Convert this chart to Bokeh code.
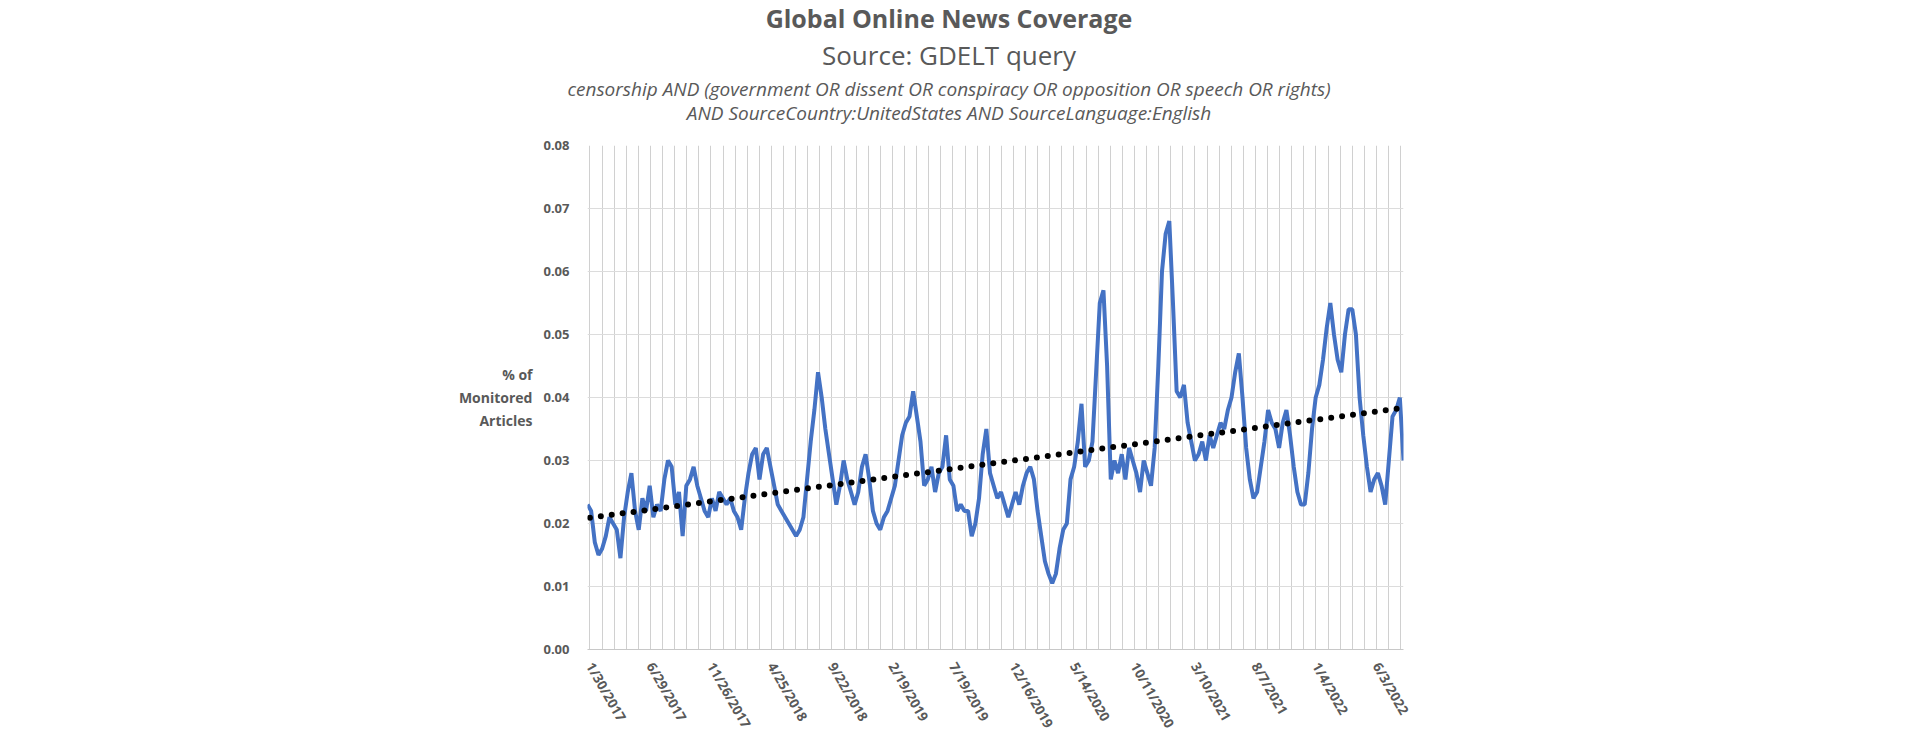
import numpy as np
import pandas as pd
from bokeh.plotting import figure
from bokeh.models import Range1d, FixedTicker, ColumnDataSource, Div
from bokeh.layouts import column
from bokeh.embed import file_html
from bokeh.resources import INLINE

values = [0.023,0.022,0.017,0.015,0.016,0.018,0.021,0.020,0.019,0.0145,0.021,0.025,0.028,0.022,0.019,0.024,0.022,0.026,0.021,0.023,
0.022,0.027,0.030,0.029,0.023,0.025,0.018,0.026,0.027,0.029,0.026,0.024,0.022,0.021,0.024,0.022,0.025,0.024,0.023,0.024,
0.022,0.021,0.019,0.024,0.028,0.031,0.032,0.027,0.031,0.032,0.029,0.026,0.023,0.022,0.021,0.020,0.019,0.018,0.019,0.021,
0.027,0.033,0.038,0.044,0.040,0.035,0.031,0.027,0.023,0.026,0.030,0.027,0.025,0.023,0.025,0.029,0.031,0.027,0.022,0.020,
0.019,0.021,0.022,0.024,0.026,0.030,0.034,0.036,0.037,0.041,0.037,0.033,0.026,0.027,0.029,0.025,0.028,0.029,0.034,0.027,
0.026,0.022,0.023,0.022,0.022,0.018,0.020,0.024,0.031,0.035,0.028,0.026,0.024,0.025,0.023,0.021,0.023,0.025,0.023,0.026,
0.028,0.029,0.027,0.022,0.018,0.014,0.012,0.0105,0.012,0.016,0.019,0.020,0.027,0.029,0.033,0.039,0.029,0.030,0.033,0.044,
0.055,0.057,0.045,0.027,0.030,0.028,0.031,0.027,0.032,0.030,0.028,0.025,0.030,0.028,0.026,0.032,0.045,0.060,0.066,0.068,
0.055,0.041,0.040,0.042,0.036,0.033,0.030,0.031,0.033,0.030,0.034,0.032,0.034,0.036,0.035,0.038,0.040,0.044,0.047,0.040,
0.032,0.027,0.024,0.025,0.029,0.033,0.038,0.036,0.035,0.032,0.036,0.038,0.034,0.029,0.025,0.023,0.023,0.028,0.035,0.040,
0.042,0.046,0.051,0.055,0.050,0.046,0.044,0.050,0.054,0.054,0.050,0.040,0.034,0.029,0.025,0.027,0.028,0.026,0.023,0.030,
0.037,0.038,0.040,0.030]
start_date = "2017-01-24"
end_date = "2022-08-09"
label_dates = ["1/30/2017","6/29/2017","11/26/2017","4/25/2018","9/22/2018","2/19/2019","7/19/2019",
               "12/16/2019","5/14/2020","10/11/2020","3/10/2021","8/7/2021","1/4/2022","6/3/2022"]
y_ticks = [0.0,0.01,0.02,0.03,0.04,0.05,0.06,0.07,0.08]

dates = pd.date_range(start_date, end_date, periods=len(values))
xs = dates.astype("int64") // 10**6
src = ColumnDataSource(dict(x=dates, y=values))

TOP = 130
BL, BR, BT = 587, 501, 145 - TOP
W = 1904
x0 = pd.Timestamp(start_date).value // 10**6
x1 = pd.Timestamp(end_date).value // 10**6
p = figure(frame_width=816, frame_height=504, output_backend="svg", toolbar_location=None,
           x_axis_type="datetime", x_range=Range1d(x0, x1), y_range=Range1d(0, 0.08),
           min_border_left=BL, min_border_right=BR, min_border_top=BT, min_border_bottom=10)
p.outline_line_color = None

lab_ms = [pd.Timestamp(d).value // 10**6 for d in label_dates]
day = 86400000
grid_ms = [lab_ms[0] + k * 30 * day for k in range(-1, 70) if x0 <= lab_ms[0] + k * 30 * day <= x1] + [x1]
p.xaxis.ticker = FixedTicker(ticks=lab_ms)
p.xaxis.major_label_overrides = {t: l for t, l in zip(lab_ms, label_dates)}
p.xgrid.ticker = FixedTicker(ticks=grid_ms)
p.xgrid.grid_line_color = "#d0d0d0"
p.ygrid.grid_line_color = "#dcdcdc"
p.xaxis.major_label_orientation = -1.05
p.xaxis.major_tick_line_color = None
p.xaxis.minor_tick_line_color = None
p.xaxis.axis_line_color = "#c8c8c8"
p.xaxis.major_label_text_font = "Open Sans"
p.xaxis.major_label_text_font_style = "bold"
p.xaxis.major_label_text_font_size = "13.5px"
p.xaxis.major_label_text_color = "#595959"
p.xaxis.major_label_standoff = 8

p.yaxis.ticker = FixedTicker(ticks=y_ticks)
p.yaxis.major_label_overrides = {t: f"{t:.2f}" for t in y_ticks}
p.yaxis.axis_line_color = None
p.yaxis.major_tick_line_color = None
p.yaxis.minor_tick_line_color = None
p.yaxis.major_label_text_font = "Open Sans"
p.yaxis.major_label_text_font_style = "bold"
p.yaxis.major_label_text_font_size = "13px"
p.yaxis.major_label_text_color = "#595959"
p.yaxis.major_label_standoff = 12
p.yaxis.axis_label = "% of\nMonitored\nArticles"
p.yaxis.axis_label_orientation = "horizontal"
p.yaxis.axis_label_text_font = "Open Sans"
p.yaxis.axis_label_text_font_style = "bold"
p.yaxis.axis_label_text_font_size = "14px"
p.yaxis.axis_label_text_color = "#595959"
p.yaxis.axis_label_text_align = "center"
p.yaxis.axis_label_standoff = 8

p.line("x", "y", source=src, line_color="#4472c4", line_width=4)

coef = np.polyfit(xs.to_numpy(dtype=float), np.array(values), 1)
p.line([x0 + 6 * day, x1], [np.polyval(coef, x0 + 6 * day), np.polyval(coef, x1)],
       line_color="black", line_width=6, line_dash="0 11", line_cap="round")

cx = 949
html = f"""
<div style="width:{2*cx}px;text-align:center;font-family:'Open Sans';color:#595959;line-height:1.0">
<div style="font-size:25px;font-weight:bold;margin-top:6px">Global Online News Coverage</div>
<div style="font-size:26px;margin-top:11px">Source: GDELT query</div>
<div style="font-size:19px;font-style:italic;margin-top:12px">censorship AND (government OR dissent OR conspiracy OR opposition OR speech OR rights)</div>
<div style="font-size:19px;font-style:italic;margin-top:5px">AND SourceCountry:UnitedStates AND SourceLanguage:English</div>
</div>"""
d = Div(text=html, width=W, height=TOP, margin=(0, 0, 0, 0))
layout = column(d, p, spacing=0)

open("out.html", "w").write(file_html(layout, INLINE))
